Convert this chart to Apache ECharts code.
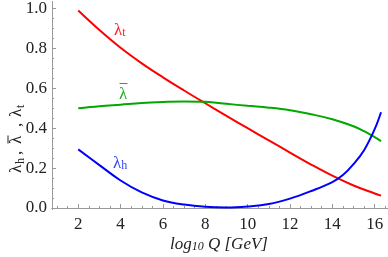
<!DOCTYPE html>
<html><head><meta charset="utf-8">
<script src="https://cdn.jsdelivr.net/npm/echarts@6/dist/echarts.min.js"></script>
<style>html,body{margin:0;padding:0;background:#fff}#c{width:388px;height:257px}</style>
</head><body><div id="c"></div>
<script>
// x positions (log10 Q) and series values
const xRed = [2, 3, 4, 5, 6, 7, 8, 9, 10, 11, 12, 13, 14, 15, 16, 16.3];
const lambdaT = [0.99, 0.892, 0.803, 0.725, 0.655, 0.589, 0.525, 0.462, 0.400, 0.339, 0.278, 0.218, 0.162, 0.113, 0.073, 0.062];
const xGreen = [2, 3, 4, 5, 6, 7, 8, 9, 10, 11, 12, 13, 14, 15, 15.5, 16, 16.3];
const lambdaBar = [0.50, 0.51, 0.518, 0.526, 0.531, 0.534, 0.532, 0.522, 0.512, 0.503, 0.49, 0.47, 0.445, 0.41, 0.385, 0.355, 0.335];
const xBlue = [2, 3, 4, 5, 6, 7, 8, 9, 10, 11, 12, 13, 14, 14.5, 15, 15.5, 16, 16.3];
const lambdaH = [0.294, 0.215, 0.138, 0.078, 0.038, 0.017, 0.006, 0.003, 0.008, 0.02, 0.047, 0.085, 0.13, 0.165, 0.22, 0.29, 0.395, 0.48];
const xMajorTicks = [2, 4, 6, 8, 10, 12, 14, 16];
const xMinorTicks = [1, 1.5, 2.5, 3, 3.5, 4.5, 5, 5.5, 6.5, 7, 7.5, 8.5, 9, 9.5, 10.5, 11, 11.5, 12.5, 13, 13.5, 14.5, 15, 15.5, 16.5];
const yMajorTicks = [0, 0.2, 0.4, 0.6, 0.8, 1.0];
const yMinorTicks = [0.05, 0.1, 0.15, 0.25, 0.3, 0.35, 0.45, 0.5, 0.55, 0.65, 0.7, 0.75, 0.85, 0.9, 0.95];

const pair = (xs, ys) => xs.map((x, i) => [x, ys[i]]);
const serif = 'Liberation Serif';
const axisCol = '#999';
const XMIN = 0.76, XMAX = 16.63, YMIN = -0.0065, YMAX = 1.035;

function xAx(ticks, len, labels) {
  return {
    type: 'value', min: XMIN, max: XMAX, position: 'bottom',
    axisLine: { show: true, lineStyle: { color: axisCol, width: 1 } },
    axisTick: { show: true, inside: true, length: len, customValues: ticks, lineStyle: { color: axisCol } },
    axisLabel: labels ? { show: true, customValues: ticks, margin: 7, fontFamily: serif, fontSize: 17, color: '#222', formatter: v => String(v) } : { show: false },
    splitLine: { show: false }
  };
}
function yAx(ticks, len, labels) {
  return {
    type: 'value', min: YMIN, max: YMAX, position: 'left',
    axisLine: { show: true, lineStyle: { color: axisCol, width: 1 } },
    axisTick: { show: true, inside: true, length: len, customValues: ticks, lineStyle: { color: axisCol } },
    axisLabel: labels ? { show: true, customValues: ticks, margin: 5, fontFamily: serif, fontSize: 17, color: '#222', formatter: v => v.toFixed(1) } : { show: false },
    splitLine: { show: false }
  };
}

const chart = echarts.init(document.getElementById('c'), null, { renderer: 'canvas' });
const lam = (sub, color, x, y) => ({
  type: 'text', left: x, top: y, z: 100,
  style: {
    text: '{a|λ}{s|' + sub + '}', fill: color,
    rich: {
      a: { fontFamily: serif, fontSize: 17, lineHeight: 17, fill: color },
      s: { fontFamily: serif, fontSize: 12, lineHeight: 6, verticalAlign: 'bottom', fill: color }
    }
  }
});
function tpiece(txt, x, size, dy) {
  return { type: 'text', x: x, y: dy || 0, style: { text: txt, fill: '#222', fontFamily: serif, fontSize: size, verticalAlign: 'middle', align: 'left' } };
}
const yTitle = {
  type: 'group', x: 17, y: 136, rotation: Math.PI / 2, z: 100,
  children: [
    tpiece('λ', -37, 17, 0),
    tpiece('h', -28, 12, 4),
    tpiece(',', -19, 17, 0),
    tpiece('λ', -8, 17, 0),
    { type: 'line', shape: { x1: -7.5, y1: -9, x2: 0.5, y2: -9 }, style: { stroke: '#222', lineWidth: 1 } },
    tpiece(',', 9, 17, 0),
    tpiece('λ', 19, 17, 0),
    tpiece('t', 28, 12, 4)
  ]
};
chart.setOption({
  animation: false,
  grid: { left: 52, right: 0, top: 0, bottom: 47.7, containLabel: false },
  xAxis: [xAx(xMajorTicks, 4, true), xAx(xMinorTicks, 2, false)],
  yAxis: [yAx(yMajorTicks, 4, true), yAx(yMinorTicks, 2, false)],
  series: [
    { type: 'line', name: 'lambda_t', data: pair(xRed, lambdaT), smooth: 0.4, showSymbol: false, lineStyle: { color: '#ff0000', width: 2 } },
    { type: 'line', name: 'lambda_bar', data: pair(xGreen, lambdaBar), smooth: 0.4, showSymbol: false, lineStyle: { color: '#00a800', width: 2 } },
    { type: 'line', name: 'lambda_h', data: pair(xBlue, lambdaH), smooth: 0.4, showSymbol: false, lineStyle: { color: '#0000ff', width: 2 } }
  ],
  graphic: [
    lam('t', '#ff2020', 114, 22),
    { type: 'group', left: 117, top: 81, z: 100, children: [
      { type: 'text', x: 0, y: 3, style: { text: 'λ', fill: '#22aa22', fontFamily: serif, fontSize: 17 } },
      { type: 'line', shape: { x1: 0.5, y1: 0.5, x2: 8.5, y2: 0.5 }, style: { stroke: '#22aa22', lineWidth: 1 } }
    ] },
    lam('h', '#3344ff', 113, 155),
    { type: 'text', left: 170, top: 236, z: 100,
      style: { text: '{a|log}{s|10}{a| Q [GeV]}', fill: '#222',
        rich: {
          a: { fontFamily: serif, fontStyle: 'italic', fontSize: 17, lineHeight: 17, fill: '#222' },
          s: { fontFamily: serif, fontStyle: 'italic', fontSize: 12, lineHeight: 8, verticalAlign: 'bottom', fill: '#222' }
        } } },
    yTitle
  ]
});
</script></body></html>
